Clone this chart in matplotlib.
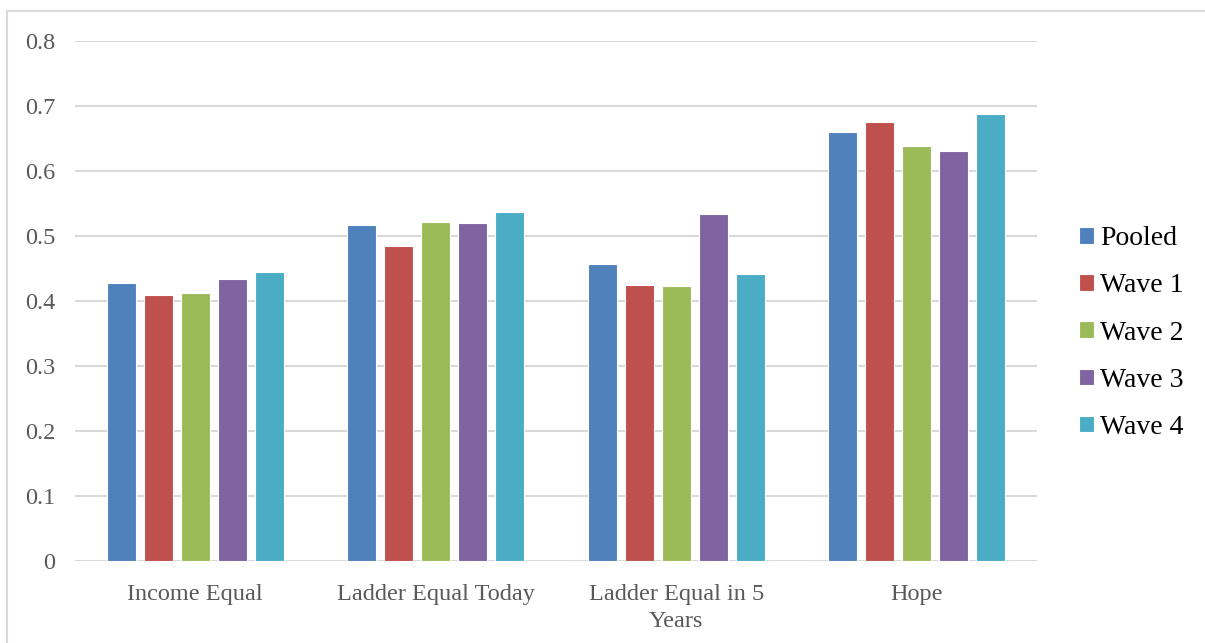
import numpy as np
import matplotlib.pyplot as plt
from matplotlib.patches import Rectangle

# survey measures by wave
categories = ["Income Equal", "Ladder Equal Today", "Ladder Equal in 5\nYears", "Hope"]
series_names = ["Pooled", "Wave 1", "Wave 2", "Wave 3", "Wave 4"]
pooled = [0.427, 0.517, 0.457, 0.660]
wave1 = [0.409, 0.484, 0.424, 0.676]
wave2 = [0.413, 0.521, 0.423, 0.639]
wave3 = [0.434, 0.520, 0.534, 0.631]
wave4 = [0.444, 0.537, 0.441, 0.688]
yticks = [0, 0.1, 0.2, 0.3, 0.4, 0.5, 0.6, 0.7, 0.8]
ytick_labels = ["0", "0.1", "0.2", "0.3", "0.4", "0.5", "0.6", "0.7", "0.8"]

colors = ["#4F81BD", "#C0504D", "#9BBB59", "#8064A2", "#4BACC6"]

plt.rcParams['font.family'] = ['Liberation Serif', 'DejaVu Serif']

fig = plt.figure(figsize=(12.05, 6.43), dpi=100)
ax = fig.add_axes([75/1205, 1 - 561/643, 962/1205, 520/643])

# light frame around the chart area
fig.patches.append(Rectangle((7/1205, -0.05), 1.2, 1 - 11/643 + 0.05,
                             transform=fig.transFigure, fill=False,
                             edgecolor="#D9D9D9", linewidth=1.5))

x = np.arange(len(categories))
pitch = 0.154
width = 0.121
all_series = [pooled, wave1, wave2, wave3, wave4]
for i, (vals, name, c) in enumerate(zip(all_series, series_names, colors)):
    ax.bar(x + (i - 2) * pitch, vals, width, color=c, label=name,
           edgecolor="white", linewidth=0.8, zorder=3)

ax.set_xlim(-0.5, len(categories) - 0.5)
ax.set_ylim(0, 0.8)
ax.set_yticks(yticks)
ax.set_yticklabels(ytick_labels)
ax.set_xticks(x)
ax.set_xticklabels(categories, linespacing=1.35)
ax.grid(axis="y", color="#D9D9D9", linewidth=1.5, zorder=0)
ax.set_axisbelow(True)
for s in ax.spines.values():
    s.set_visible(False)
ax.tick_params(axis="both", length=0, labelsize=17.5, labelcolor="#595959")
ax.tick_params(axis="y", pad=14)
ax.tick_params(axis="x", pad=16.5)

leg = fig.legend(loc="center left", bbox_to_anchor=(1079/1205, 1 - 333/643),
                 frameon=False, fontsize=20, handlelength=0.55, handleheight=0.55,
                 handletextpad=0.22, labelspacing=0.8, borderpad=0, borderaxespad=0)

fig.savefig("out.png", dpi=100)
